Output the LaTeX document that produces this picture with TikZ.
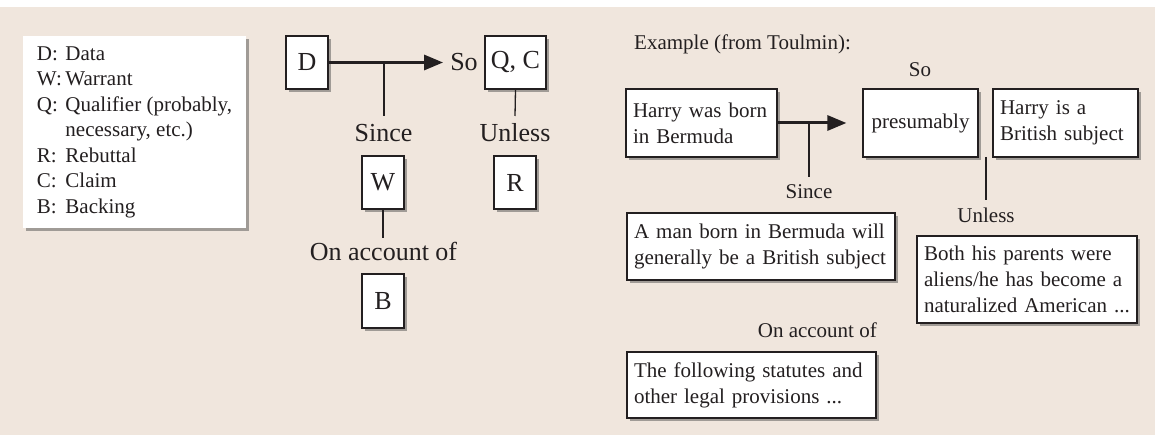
\documentclass[tikz,border=0pt]{standalone}
\usepackage{fontspec}
\setmainfont{Liberation Serif}
\usetikzlibrary{shadows,arrows.meta}
\definecolor{bg}{RGB}{240,230,221}
\definecolor{ink}{RGB}{35,31,32}
\begin{document}
\begin{tikzpicture}[x=1pt,y=-1pt,
  shad/.style={drop shadow={shadow xshift=3pt,shadow yshift=-3pt,opacity=0.45,fill=black!75}},
  box/.style={draw=ink,line width=1.2pt,fill=white,shad,inner sep=0pt,text=ink},
  big/.style={font=\fontsize{26}{30}\selectfont},
  sm/.style={font=\fontsize{21}{26}\selectfont},
  lbox/.style={box,big,minimum width=42pt,minimum height=53pt},
  rbox/.style={box,sm,align=left,inner xsep=7pt,inner ysep=0pt},
  lab/.style={inner sep=0pt,text=ink,anchor=base},
  arr/.style={draw=ink,line width=3pt,-{Triangle[length=19pt,width=15pt]}},
  ln/.style={draw=ink,line width=1.3pt}]
% background
\fill[white] (0,0) rectangle (1155,435);
\useasboundingbox (0,0) rectangle (1155,435);
\fill[bg] (0,7) rectangle (1155,435);

% legend
\node[draw=none,fill=white,shad,sm,text=ink,align=left,inner sep=0pt,
      minimum width=223pt,minimum height=192pt,
      font=\fontsize{21}{25.5}\selectfont] (legend) at (134.5,132)
 {\makebox[28.5pt][l]{D:}Data\\
  \makebox[28.5pt][l]{W:}Warrant\\
  \makebox[28.5pt][l]{Q:}Qualifier (probably,\\
  \hspace*{28.5pt}necessary, etc.)\\
  \makebox[28.5pt][l]{R:}Rebuttal\\
  \makebox[28.5pt][l]{C:}Claim\\
  \makebox[28.5pt][l]{B:}Backing};

% left diagram
\node[lbox] (D) at (307,62.5) {D};
\node[lbox,minimum width=61pt] (QC) at (515.5,62.5) {Q, C};
\node[lbox] (W) at (383,182.5) {W};
\node[lbox] (R) at (515,182.5) {R};
\node[lbox,minimum height=54pt] (B) at (383,301) {B};
\node[lab,big] (so) at (464,71) {So};
\node[lab,big] (since) at (383.5,142) {Since};
\node[lab,big] (unless) at (515,142) {Unless};
\node[lab,big] (acc) at (383.5,261) {On account of};
\draw[arr,shorten >=7pt] (D.east) -- (D.east -| so.west);
\coordinate (j1) at (384,62.5);
\coordinate (j1e) at (384,116);
\draw[ln] (j1) -- (j1e);
\coordinate (qce) at (515,116);
\draw[ln] (QC.south) -- (qce);
\coordinate (we) at (383,238);
\draw[ln] (W.south) -- (we);

% right example
\node[lab,sm,anchor=base west] (ex) at (634,50) {Example (from Toulmin):};
\node[rbox,text width=137pt,minimum height=68pt] (harry) at (701.5,123) {Harry was born\\in Bermuda};
\node[box,sm,minimum width=115pt,minimum height=68pt] (pres) at (920.5,123) {presumably};
\node[rbox,text width=131pt,minimum height=68pt] (claim) at (1065.5,123) {Harry is a\\British subject};
\node[rbox,text width=254pt,minimum height=67pt] (man) at (761,246.5) {A man born in Bermuda will\\generally be a British subject};
\node[rbox,text width=206pt,minimum height=87pt] (both) at (1027,279.5) {Both his parents were\\aliens/he has become a\\naturalized American ...};
\node[rbox,text width=235pt,minimum height=66pt] (follow) at (751.5,385) {The following statutes and\\other legal provisions ...};
\node[lab,sm] (so2) at (920,77) {So};
\node[lab,sm] (since2) at (809,199) {Since};
\node[lab,sm] (unless2) at (986,223) {Unless};
\node[lab,sm,anchor=base east] (acc2) at (877,337) {On account of};
\draw[arr,shorten >=16pt] (harry.east) -- (harry.east -| pres.west);
\coordinate (j2) at (809,123);
\coordinate (j2e) at (809,177);
\draw[ln] (j2) -- (j2e);
\coordinate (u2s) at (986,157);
\coordinate (u2e) at (986,200);
\draw[ln] (u2s) -- (u2e);
\end{tikzpicture}
\end{document}
